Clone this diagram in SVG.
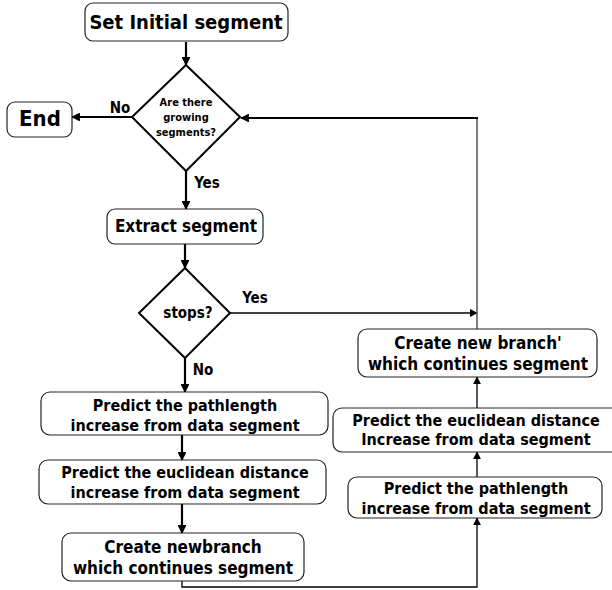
<svg xmlns="http://www.w3.org/2000/svg" width="612" height="590" viewBox="0 0 612 590">
<defs>
<marker id="ah" viewBox="0 0 10 10" refX="9" refY="5" markerWidth="4" markerHeight="4" orient="auto" markerUnits="strokeWidth">
<path d="M0,0 L10,5 L0,10 z" fill="#000"/>
</marker>
<marker id="ahs" viewBox="0 0 10 10" refX="9" refY="5" markerWidth="6" markerHeight="6" orient="auto" markerUnits="strokeWidth">
<path d="M0,0 L10,5 L0,10 z" fill="#000"/>
</marker>
</defs>
<style>
.box{fill:#fff;stroke:#222;stroke-width:1.2}
.dia{fill:#fff;stroke:#000;stroke-width:2}
.t{font-family:"DejaVu Sans Condensed","DejaVu Sans",sans-serif;fill:#000;text-anchor:middle;font-weight:bold}
.c{fill:none;stroke:#000;stroke-width:2.2}
.ct{fill:none;stroke:#000;stroke-width:1.3}
.cg{fill:none;stroke:#555;stroke-width:1.5}
</style>
<rect width="612" height="590" fill="#fff"/>
<g id="connectors">
<line class="c" x1="186" y1="42" x2="186" y2="65" marker-end="url(#ah)"/>
<line class="c" x1="132" y1="117" x2="72" y2="117" marker-end="url(#ah)"/>
<line class="c" x1="186" y1="171" x2="186" y2="209" marker-end="url(#ah)"/>
<line class="c" x1="185" y1="244" x2="185" y2="268" marker-end="url(#ah)"/>
<line class="c" x1="185" y1="358" x2="185" y2="392" marker-end="url(#ah)"/>
<line class="c" x1="182" y1="435" x2="182" y2="460" marker-end="url(#ah)"/>
<line class="c" x1="182" y1="504" x2="182" y2="533" marker-end="url(#ah)"/>
<polyline class="ct" points="182,581 182,587 477,587 477,518" marker-end="url(#ahs)"/>
<line class="ct" x1="477" y1="477" x2="477" y2="452" marker-end="url(#ahs)"/>
<line class="ct" x1="477" y1="408" x2="477" y2="377" marker-end="url(#ahs)"/>
<line class="ct" x1="230" y1="313" x2="477" y2="313" marker-end="url(#ahs)"/>
<polyline class="cg" points="477,329 477,118"/>
<line class="c" x1="478" y1="118" x2="241" y2="118" marker-end="url(#ah)"/>
<text class="t" x="120" y="113" font-size="15">No</text>
<text class="t" x="207" y="188" font-size="15">Yes</text>
<text class="t" x="255" y="303" font-size="15">Yes</text>
<text class="t" x="203" y="375" font-size="15">No</text>
</g>
<g id="n-start">
<rect class="box" x="85" y="3" width="203" height="38" rx="8"/>
<text class="t" x="186" y="29" font-size="20">Set Initial segment</text>
</g>
<g id="n-growing">
<polygon class="dia" points="186,65 240,117 186,171 132,117"/>
<text class="t" x="186" y="106" font-size="11">Are there</text>
<text class="t" x="186" y="121" font-size="11">growing</text>
<text class="t" x="186" y="136" font-size="11">segments?</text>
</g>
<g id="n-end">
<rect class="box" x="7" y="102" width="65" height="35" rx="8"/>
<text class="t" x="40" y="126" font-size="22">End</text>
</g>
<g id="n-extract">
<rect class="box" x="107" y="209" width="156" height="35" rx="8"/>
<text class="t" x="186" y="232" font-size="17">Extract segment</text>
</g>
<g id="n-stops">
<polygon class="dia" points="185,268 230,313 185,358 139,313"/>
<text class="t" x="188" y="318" font-size="15">stops?</text>
</g>
<g id="n-path-l">
<rect class="box" x="41" y="392" width="287" height="43" rx="9"/>
<text class="t" x="185" y="411" font-size="16">Predict the pathlength</text>
<text class="t" x="185" y="431" font-size="16">increase from data segment</text>
</g>
<g id="n-eucl-l">
<rect class="box" x="39" y="460" width="287" height="44" rx="9"/>
<text class="t" x="185" y="478" font-size="16">Predict the euclidean distance</text>
<text class="t" x="185" y="498" font-size="16">increase from data segment</text>
</g>
<g id="n-new-l">
<rect class="box" x="62" y="533" width="242" height="48" rx="9"/>
<text class="t" x="183" y="553" font-size="17">Create newbranch</text>
<text class="t" x="183" y="574" font-size="17">which continues segment</text>
</g>
<g id="n-path-r">
<rect class="box" x="348" y="477" width="254" height="41" rx="9"/>
<text class="t" x="476" y="494" font-size="16">Predict the pathlength</text>
<text class="t" x="476" y="514" font-size="16">increase from data segment</text>
</g>
<g id="n-eucl-r">
<rect class="box" x="333" y="408" width="300" height="44" rx="9"/>
<text class="t" x="476" y="426" font-size="16">Predict the euclidean distance</text>
<text class="t" x="476" y="445" font-size="16">Increase from data segment</text>
</g>
<g id="n-new-r">
<rect class="box" x="358" y="329" width="239" height="48" rx="9"/>
<text class="t" x="478" y="349" font-size="17">Create new branch'</text>
<text class="t" x="478" y="370" font-size="17">which continues segment</text>
</g>
</svg>
